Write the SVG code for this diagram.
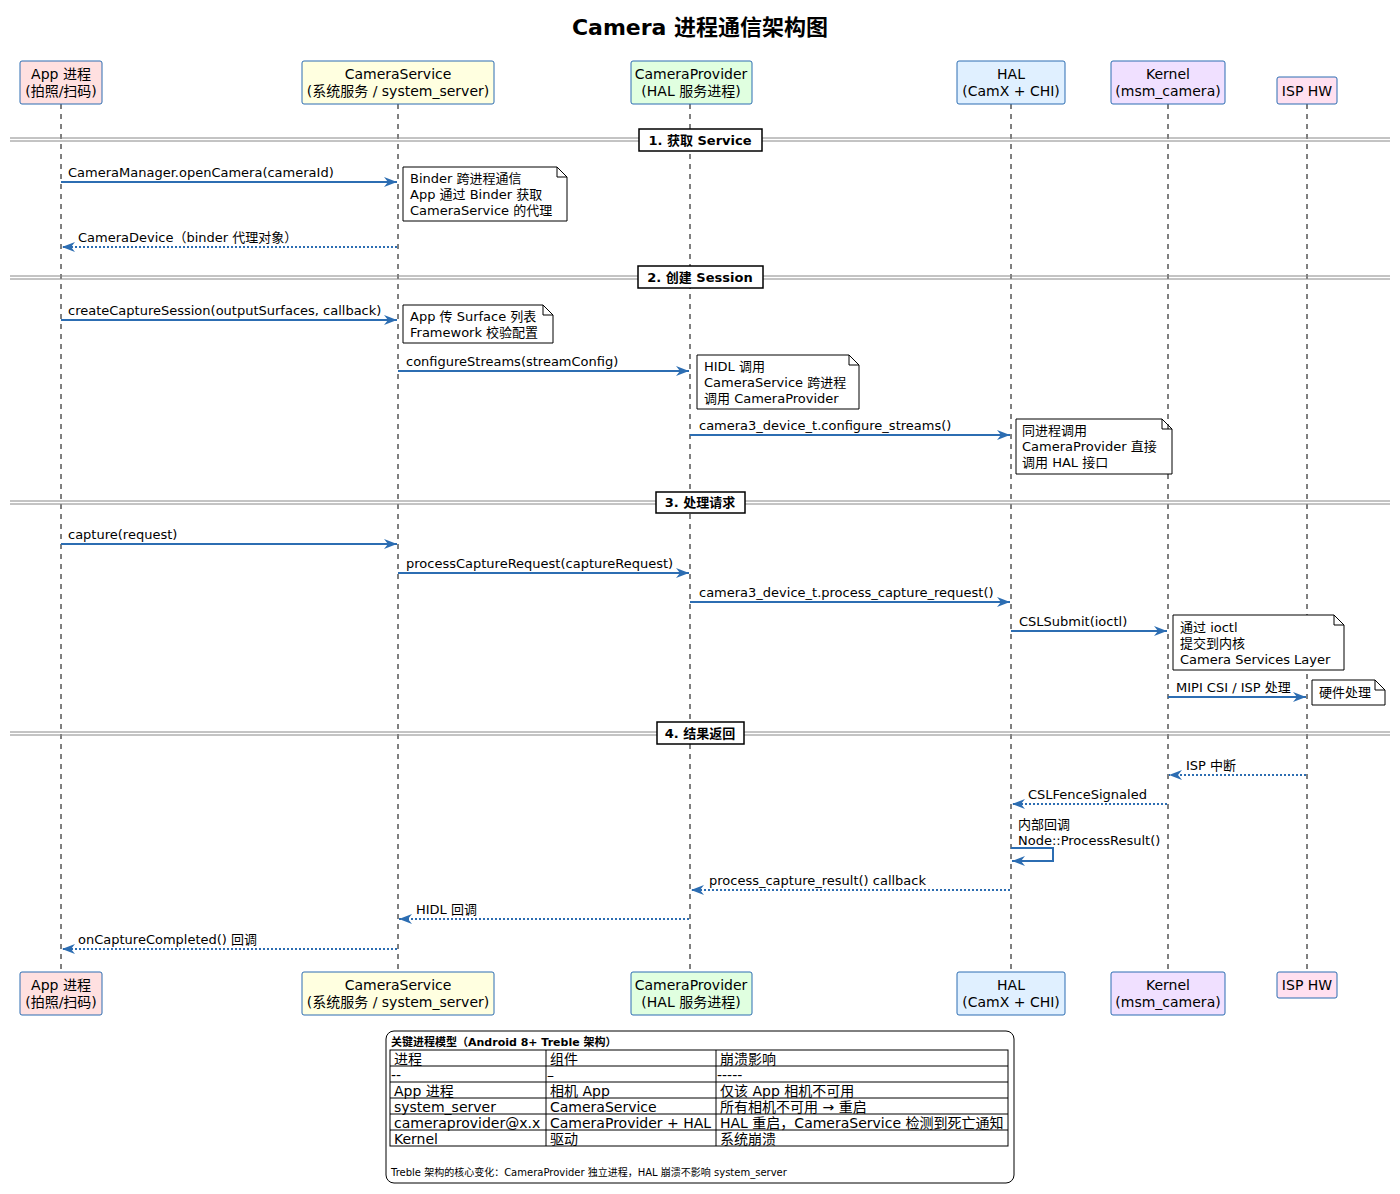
<svg xmlns="http://www.w3.org/2000/svg" width="1400" height="1194" viewBox="0 0 1400 1194">
<style>
text{font-family:"DejaVu Sans","Noto Sans CJK SC",sans-serif;fill:#000}
.t{font-size:13px}
.p{font-size:14px;text-anchor:middle}
.tb{font-size:14px}
.c{text-anchor:middle}
.title{font-size:22px;font-weight:bold}
.sec{font-size:13px;font-weight:bold}
.box{stroke:#2c6db2;stroke-width:1}
.life{stroke:#000;stroke-width:1;stroke-dasharray:5,5}
.msg{stroke:#2c6db2;stroke-width:2;fill:none}
.ret{stroke:#2c6db2;stroke-width:2;fill:none;stroke-dasharray:2,2}
.note{fill:#fff;stroke:#000;stroke-width:1}
.div{stroke:#888;stroke-width:1}
.secbox{fill:#fff;stroke:#000;stroke-width:1.5}
.tbl{fill:none;stroke:#000;stroke-width:1}
.sm{font-size:11px}
.xs{font-size:10px}
</style>
<defs>
<marker id="ah" markerUnits="userSpaceOnUse" viewBox="0 0 13 10" refX="13" refY="5" markerWidth="13" markerHeight="10" orient="auto">
<path d="M0,0 L13,5 L0,10 L4,5 Z" fill="#2c6db2"/>
</marker>
</defs>
<rect width="1400" height="1194" fill="#fff"/>
<text class="title c" x="700" y="35">Camera 进程通信架构图</text>

<g id="lifelines">
<line class="life" x1="61" y1="104" x2="61" y2="972"/>
<line class="life" x1="398" y1="104" x2="398" y2="972"/>
<line class="life" x1="690" y1="104" x2="690" y2="972"/>
<line class="life" x1="1011" y1="104" x2="1011" y2="972"/>
<line class="life" x1="1168" y1="104" x2="1168" y2="972"/>
<line class="life" x1="1307" y1="104" x2="1307" y2="972"/>
</g>

<g id="p-app">
<rect class="box" x="20" y="61" width="82" height="43" rx="2" fill="#ffe0e0"/>
<text class="p" x="61" y="79">App 进程</text><text class="p" x="61" y="96">(拍照/扫码)</text>
<rect class="box" x="20" y="972" width="82" height="43" rx="2" fill="#ffe0e0"/>
<text class="p" x="61" y="990">App 进程</text><text class="p" x="61" y="1007">(拍照/扫码)</text>
</g>
<g id="p-cs">
<rect class="box" x="302" y="61" width="192" height="43" rx="2" fill="#ffffe0"/>
<text class="p" x="398" y="79">CameraService</text><text class="p" x="398" y="96">(系统服务 / system_server)</text>
<rect class="box" x="302" y="972" width="192" height="43" rx="2" fill="#ffffe0"/>
<text class="p" x="398" y="990">CameraService</text><text class="p" x="398" y="1007">(系统服务 / system_server)</text>
</g>
<g id="p-cp">
<rect class="box" x="631" y="61" width="121" height="43" rx="2" fill="#e0ffe0"/>
<text class="p" x="691" y="79">CameraProvider</text><text class="p" x="691" y="96">(HAL 服务进程)</text>
<rect class="box" x="631" y="972" width="121" height="43" rx="2" fill="#e0ffe0"/>
<text class="p" x="691" y="990">CameraProvider</text><text class="p" x="691" y="1007">(HAL 服务进程)</text>
</g>
<g id="p-hal">
<rect class="box" x="957" y="61" width="108" height="43" rx="2" fill="#e0f0ff"/>
<text class="p" x="1011" y="79">HAL</text><text class="p" x="1011" y="96">(CamX + CHI)</text>
<rect class="box" x="957" y="972" width="108" height="43" rx="2" fill="#e0f0ff"/>
<text class="p" x="1011" y="990">HAL</text><text class="p" x="1011" y="1007">(CamX + CHI)</text>
</g>
<g id="p-kernel">
<rect class="box" x="1111" y="61" width="114" height="43" rx="2" fill="#f0e0ff"/>
<text class="p" x="1168" y="79">Kernel</text><text class="p" x="1168" y="96">(msm_camera)</text>
<rect class="box" x="1111" y="972" width="114" height="43" rx="2" fill="#f0e0ff"/>
<text class="p" x="1168" y="990">Kernel</text><text class="p" x="1168" y="1007">(msm_camera)</text>
</g>
<g id="p-isp">
<rect class="box" x="1277" y="77" width="60" height="27" rx="2" fill="#ffe0f0"/>
<text class="p" x="1307" y="96">ISP HW</text>
<rect class="box" x="1277" y="972" width="60" height="26" rx="2" fill="#ffe0f0"/>
<text class="p" x="1307" y="990">ISP HW</text>
</g>

<g id="sections">
<line class="div" x1="10" y1="138" x2="1390" y2="138"/><line class="div" x1="10" y1="141" x2="1390" y2="141"/>
<rect class="secbox" x="639" y="129" width="123" height="22"/>
<text class="sec c" x="700" y="145">1. 获取 Service</text>
<line class="div" x1="10" y1="276" x2="1390" y2="276"/><line class="div" x1="10" y1="279" x2="1390" y2="279"/>
<rect class="secbox" x="638" y="266" width="125" height="22"/>
<text class="sec c" x="700" y="282">2. 创建 Session</text>
<line class="div" x1="10" y1="501" x2="1390" y2="501"/><line class="div" x1="10" y1="504" x2="1390" y2="504"/>
<rect class="secbox" x="656" y="492" width="89" height="21"/>
<text class="sec c" x="700" y="507">3. 处理请求</text>
<line class="div" x1="10" y1="732" x2="1390" y2="732"/><line class="div" x1="10" y1="735" x2="1390" y2="735"/>
<rect class="secbox" x="657" y="722" width="87" height="22"/>
<text class="sec c" x="700" y="738">4. 结果返回</text>
</g>

<g id="connectors">
<line class="msg" x1="61" y1="182" x2="397" y2="182" marker-end="url(#ah)"/>
<text class="t" x="68" y="177">CameraManager.openCamera(cameraId)</text>
<line class="ret" x1="397" y1="247" x2="62" y2="247" marker-end="url(#ah)"/>
<text class="t" x="78" y="242">CameraDevice（binder 代理对象）</text>
<line class="msg" x1="61" y1="320" x2="397" y2="320" marker-end="url(#ah)"/>
<text class="t" x="68" y="315">createCaptureSession(outputSurfaces, callback)</text>
<line class="msg" x1="398" y1="371" x2="689" y2="371" marker-end="url(#ah)"/>
<text class="t" x="406" y="366">configureStreams(streamConfig)</text>
<line class="msg" x1="690" y1="435" x2="1010" y2="435" marker-end="url(#ah)"/>
<text class="t" x="699" y="430">camera3_device_t.configure_streams()</text>
<line class="msg" x1="61" y1="544" x2="397" y2="544" marker-end="url(#ah)"/>
<text class="t" x="68" y="539">capture(request)</text>
<line class="msg" x1="398" y1="573" x2="689" y2="573" marker-end="url(#ah)"/>
<text class="t" x="406" y="568">processCaptureRequest(captureRequest)</text>
<line class="msg" x1="690" y1="602" x2="1010" y2="602" marker-end="url(#ah)"/>
<text class="t" x="699" y="597">camera3_device_t.process_capture_request()</text>
<line class="msg" x1="1011" y1="631" x2="1167" y2="631" marker-end="url(#ah)"/>
<text class="t" x="1019" y="626">CSLSubmit(ioctl)</text>
<line class="msg" x1="1168" y1="697" x2="1306" y2="697" marker-end="url(#ah)"/>
<text class="t" x="1176" y="692">MIPI CSI / ISP 处理</text>
<line class="ret" x1="1306" y1="775" x2="1169" y2="775" marker-end="url(#ah)"/>
<text class="t" x="1186" y="770">ISP 中断</text>
<line class="ret" x1="1167" y1="804" x2="1012" y2="804" marker-end="url(#ah)"/>
<text class="t" x="1028" y="799">CSLFenceSignaled</text>
<polyline class="msg" points="1011,848 1053,848 1053,861 1012,861" marker-end="url(#ah)"/>
<text class="t" x="1018" y="829">内部回调</text>
<text class="t" x="1018" y="845">Node::ProcessResult()</text>
<line class="ret" x1="1010" y1="890" x2="691" y2="890" marker-end="url(#ah)"/>
<text class="t" x="709" y="885">process_capture_result() callback</text>
<line class="ret" x1="689" y1="919" x2="399" y2="919" marker-end="url(#ah)"/>
<text class="t" x="416" y="914">HIDL 回调</text>
<line class="ret" x1="397" y1="949" x2="62" y2="949" marker-end="url(#ah)"/>
<text class="t" x="78" y="944">onCaptureCompleted() 回调</text>
</g>

<g id="notes">
<g id="n1"><path class="note" d="M403,167 H557 L567,177 V221 H403 Z M557,167 V177 H567"/>
<text class="t" x="410" y="183">Binder 跨进程通信</text><text class="t" x="410" y="199">App 通过 Binder 获取</text><text class="t" x="410" y="215">CameraService 的代理</text></g>
<g id="n2"><path class="note" d="M403,305 H543 L553,315 V343 H403 Z M543,305 V315 H553"/>
<text class="t" x="410" y="321">App 传 Surface 列表</text><text class="t" x="410" y="337">Framework 校验配置</text></g>
<g id="n3"><path class="note" d="M697,355 H849 L859,365 V409 H697 Z M849,355 V365 H859"/>
<text class="t" x="704" y="371">HIDL 调用</text><text class="t" x="704" y="387">CameraService 跨进程</text><text class="t" x="704" y="403">调用 CameraProvider</text></g>
<g id="n4"><path class="note" d="M1016,419 H1162 L1172,429 V474 H1016 Z M1162,419 V429 H1172"/>
<text class="t" x="1022" y="435">同进程调用</text><text class="t" x="1022" y="451">CameraProvider 直接</text><text class="t" x="1022" y="467">调用 HAL 接口</text></g>
<g id="n5"><path class="note" d="M1173,615 H1334 L1344,625 V670 H1173 Z M1334,615 V625 H1344"/>
<text class="t" x="1180" y="632">通过 ioctl</text><text class="t" x="1180" y="648">提交到内核</text><text class="t" x="1180" y="664">Camera Services Layer</text></g>
<g id="n6"><path class="note" d="M1312,680 H1375 L1385,690 V705 H1312 Z M1375,680 V690 H1385"/>
<text class="t" x="1319" y="697">硬件处理</text></g>
</g>

<g id="legend">
<rect x="386" y="1031" width="628" height="152" rx="8" fill="#fff" stroke="#000" stroke-width="1"/>
<text class="sm" x="391" y="1046" font-weight="bold">关键进程模型（Android 8+ Treble 架构）</text>
<rect class="tbl" x="390" y="1050" width="618" height="96"/>
<line class="tbl" x1="390" y1="1066" x2="1008" y2="1066"/>
<line class="tbl" x1="390" y1="1082" x2="1008" y2="1082"/>
<line class="tbl" x1="390" y1="1098" x2="1008" y2="1098"/>
<line class="tbl" x1="390" y1="1114" x2="1008" y2="1114"/>
<line class="tbl" x1="390" y1="1130" x2="1008" y2="1130"/>
<line class="tbl" x1="546" y1="1050" x2="546" y2="1146"/>
<line class="tbl" x1="716" y1="1050" x2="716" y2="1146"/>
<text class="tb" x="394" y="1064">进程</text><text class="tb" x="550" y="1064">组件</text><text class="tb" x="720" y="1064">崩溃影响</text>
<text class="tb" x="391" y="1080">--</text><text class="tb" x="547" y="1080">–</text><text class="tb" x="717" y="1080">-----</text>
<text class="tb" x="394" y="1096">App 进程</text><text class="tb" x="550" y="1096">相机 App</text><text class="tb" x="720" y="1096">仅该 App 相机不可用</text>
<text class="tb" x="394" y="1112">system_server</text><text class="tb" x="550" y="1112">CameraService</text><text class="tb" x="720" y="1112">所有相机不可用 → 重启</text>
<text class="tb" x="394" y="1128">cameraprovider@x.x</text><text class="tb" x="550" y="1128">CameraProvider + HAL</text><text class="tb" x="720" y="1128">HAL 重启，CameraService 检测到死亡通知</text>
<text class="tb" x="394" y="1144">Kernel</text><text class="tb" x="550" y="1144">驱动</text><text class="tb" x="720" y="1144">系统崩溃</text>
<text class="xs" x="391" y="1176">Treble 架构的核心变化：CameraProvider 独立进程，HAL 崩溃不影响 system_server</text>
</g>
</svg>
